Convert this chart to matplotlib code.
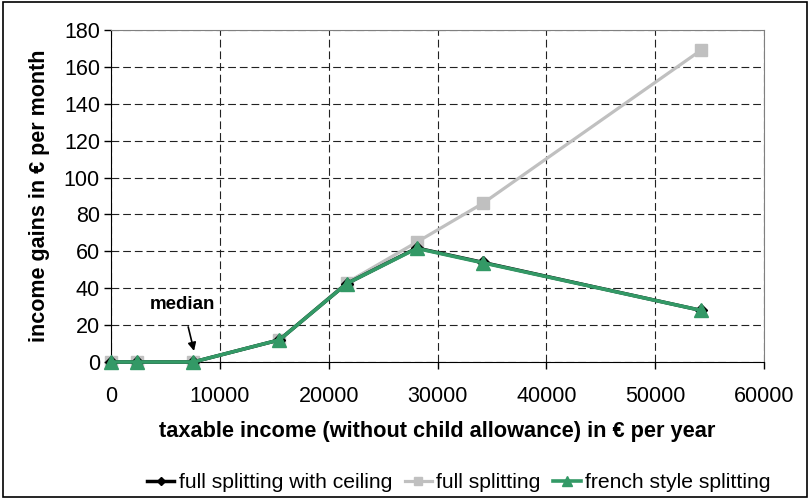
import numpy as np
import matplotlib.pyplot as plt
from matplotlib.patches import Rectangle

plt.rcParams['font.family'] = ['Liberation Sans', 'DejaVu Sans']

# data
income = [0, 2360, 7560, 15470, 21660, 28100, 34160, 54200]
full_ceiling = [0, 0, 0, 12, 42.5, 61.8, 54, 28]
full_split = [0, 0, 0, 12, 43, 65, 86, 169]
french_split = [0, 0, 0, 12, 42.5, 61.6, 53.8, 28]

green = '#339966'
grey = '#c0c0c0'

fig = plt.figure(figsize=(8.09, 5.0), dpi=100)
ax = fig.add_axes([0.1372, 0.276, 0.8072, 0.664])

ax.plot(income, full_split, color=grey, lw=2.3, marker='s', ms=8.5,
        mec=grey, mfc=grey, label='full splitting', zorder=3, clip_on=False)
ax.plot(income, full_ceiling, color='black', lw=2.5, marker='D', ms=6,
        label='full splitting with ceiling', zorder=4, clip_on=False)
ax.plot(income, french_split, color=green, lw=2.6, marker='^', ms=10,
        mec=green, mfc=green, label='french style splitting', zorder=5, clip_on=False)

ax.set_xlim(0, 60000)
ax.set_ylim(0, 180)
ax.set_xticks(np.arange(0, 60001, 10000))
ax.set_yticks(np.arange(0, 181, 20))
ax.tick_params(direction='out', length=5, width=1, labelsize=15.5, pad=3)
ax.tick_params(axis='x', pad=12)
ax.grid(True, color='#222222', linestyle=(0, (7, 3.5)), lw=0.8)
ax.set_axisbelow(True)
for s in ['top', 'right']:
    ax.spines[s].set_color('#808080')
ax.spines['left'].set_color('black')
ax.spines['bottom'].set_color('black')

ax.set_ylabel('income gains in € per month', fontsize=15.5, fontweight='bold', labelpad=10)
ax.set_xlabel('taxable income (without child allowance) in € per year', fontsize=15.7,
              fontweight='bold', labelpad=10)

ax.annotate('median', xy=(7630, 6), xytext=(6600, 31), fontsize=13.5, fontweight='bold',
            ha='center', va='center',
            arrowprops=dict(arrowstyle='-|>', color='black', lw=1.2,
                            shrinkA=8, shrinkB=0, mutation_scale=12))

handles, labels = ax.get_legend_handles_labels()
order = [1, 0, 2]
fig.legend([handles[i] for i in order], [labels[i] for i in order],
           loc='center', bbox_to_anchor=(0.567, 0.034), ncol=3, frameon=False,
           fontsize=15.2, handlelength=1.3, handletextpad=0.2, columnspacing=0.6,
           markerscale=0.7)

fig.patches.append(Rectangle((0.004, 0.006), 0.993, 0.99, transform=fig.transFigure,
                             fill=False, edgecolor='black', lw=1.2))

fig.savefig('out.png', dpi=100)
